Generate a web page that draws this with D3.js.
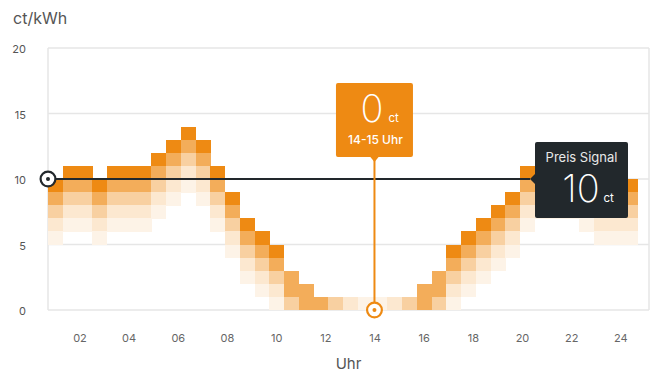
<!DOCTYPE html>
<html>
<head>
<meta charset="utf-8">
<script src="https://cdn.jsdelivr.net/npm/d3@7"></script>
<style>
  html, body { margin: 0; padding: 0; background: #fff; }
  svg { display: block; font-family: Inter, "Noto Sans", sans-serif; }
</style>
</head>
<body>
<svg id="chart" width="654" height="374"></svg>
<script>
// Price per 36-minute slot (ct/kWh, top of each column)
const slotPrice = [
  10, 11, 11, 10, 11, 11, 11, 12, 13, 14,
  13, 11, 9, 7, 6, 5, 3, 2, 1, 1,
  1, 1, 1, 1, 1, 2, 3, 5, 6, 7,
  8, 9, 11, 12, 12, 12, 11, 10, 10, 10
];

// Intensity of each cell in a column, listed from the top cell downwards (5 = strongest)
const slotShade = [
  [5,4,3,2,1], [5,4,3,2,1], [5,4,3,2,1], [5,4,3,2,1], [5,4,3,2,1],
  [5,4,3,2,1], [5,4,3,2,1], [5,4,3,2,1], [5,4,3,2,1], [5,4,3,2,1],
  [5,4,3,2,1], [5,4,3,2,1], [5,4,3,2,1], [5,4,3,2,1], [5,4,3,2,1],
  [5,4,3,2,1], [4,4,3], [4,4], [4], [3],
  [2], [1], [1], [2], [3],
  [4,4], [4,4,3], [5,4,3,2,1], [5,4,3,2,1], [5,4,3,2,1],
  [5,4,3,2,1], [5,4,3,2,1], [5,4,3,2,1], [5,4,3,2,1], [5,4,3,2,1],
  [5,4,3,2,1], [5,4,3,2,1], [5,4,3,2,1], [5,4,3,2,1], [5,4,3,2,1]
];

const hourTicks = [2, 4, 6, 8, 10, 12, 14, 16, 18, 20, 22, 24];
const priceTicks = [0, 5, 10, 15, 20];

const signalPrice = 10;          // "Preis Signal" threshold
const selectedHour = 14;         // highlighted hour
const selectedPrice = 0;
const selectedLabel = "14-15 Uhr";
const dayStart = 0.72, dayEnd = 24.72;   // time span covered by the slots (hours)

const ORANGE = "#ee8a13";
const DARK = "#22282c";
const GRID = "#e6e6e6";

const svg = d3.select("#chart");

const plot = { left: 48, right: 649, top: 48, bottom: 310 };

const x = d3.scaleLinear().domain([dayStart, dayEnd]).range([48, 638]);
const y = d3.scaleLinear().domain([0, 20]).range([plot.bottom, plot.top]);
const slot = d3.scaleBand()
  .domain(d3.range(slotPrice.length))
  .range([x(dayStart), x(dayEnd)])
  .padding(0);

const levelOpacity = [0, 0.1, 0.2, 0.4, 0.7, 1];
const shadeColor = lvl => d3.interpolateRgb("#ffffff", ORANGE)(levelOpacity[lvl]);

// grid
svg.append("g")
  .selectAll("line")
  .data(priceTicks)
  .join("line")
  .attr("x1", plot.left).attr("x2", plot.right)
  .attr("y1", d => y(d)).attr("y2", d => y(d))
  .attr("stroke", GRID).attr("stroke-width", 1.5);

svg.append("g")
  .selectAll("line")
  .data([plot.left, plot.right])
  .join("line")
  .attr("x1", d => d).attr("x2", d => d)
  .attr("y1", plot.top).attr("y2", plot.bottom)
  .attr("stroke", GRID).attr("stroke-width", 1.5);

// y axis labels
const yAxis = svg.append("g")
  .attr("transform", `translate(${plot.left},0)`)
  .call(d3.axisLeft(y).tickValues(priceTicks).tickSize(0).tickPadding(22));
yAxis.select(".domain").remove();
yAxis.selectAll("text")
  .attr("fill", "#555").attr("font-size", 11).attr("dy", "0.45em")
  .attr("font-family", "Inter, sans-serif");

// x axis labels
const xAxis = svg.append("g")
  .attr("transform", `translate(0,${plot.bottom})`)
  .call(d3.axisBottom(x).tickValues(hourTicks).tickFormat(d3.format("02d")).tickSize(0).tickPadding(24));
xAxis.select(".domain").remove();
xAxis.selectAll("text")
  .attr("fill", "#666").attr("font-size", 11)
  .attr("font-family", "Inter, sans-serif");

// axis titles
svg.append("text")
  .attr("x", 13).attr("y", 24)
  .attr("font-size", 16).attr("fill", "#555")
  .text("ct/kWh");

svg.append("text")
  .attr("x", (plot.left + plot.right) / 2).attr("y", 369)
  .attr("text-anchor", "middle")
  .attr("font-size", 15).attr("fill", "#555")
  .text("Uhr");

// price cells
const cells = [];
slotPrice.forEach((v, i) => {
  slotShade[i].forEach((lvl, k) => {
    cells.push({ i, top: v - k, bottom: v - k - 1, lvl });
  });
});

svg.append("g")
  .attr("shape-rendering", "crispEdges")
  .selectAll("rect")
  .data(cells)
  .join("rect")
  .attr("x", d => slot(d.i))
  .attr("y", d => y(d.top))
  .attr("width", slot.bandwidth() + 0.4)
  .attr("height", d => y(d.bottom) - y(d.top) + 0.4)
  .attr("fill", d => shadeColor(d.lvl));

// signal line
const sy = y(signalPrice);
const tipBox = { x: 535, y: 142, w: 93, h: 76 };

svg.append("line")
  .attr("x1", plot.left).attr("x2", tipBox.x - 5)
  .attr("y1", sy).attr("y2", sy)
  .attr("stroke", DARK).attr("stroke-width", 2);

svg.append("circle")
  .attr("cx", plot.left).attr("cy", sy).attr("r", 7.4)
  .attr("fill", "#fff").attr("stroke", DARK).attr("stroke-width", 2.2);
svg.append("circle")
  .attr("cx", plot.left).attr("cy", sy).attr("r", 2)
  .attr("fill", DARK);

// signal tooltip
const sig = svg.append("g");
sig.append("rect")
  .attr("x", tipBox.x).attr("y", tipBox.y)
  .attr("width", tipBox.w).attr("height", tipBox.h)
  .attr("rx", 2).attr("fill", DARK);
sig.append("path")
  .attr("d", `M${tipBox.x + 0.5},${sy - 5.5} L${tipBox.x - 5},${sy} L${tipBox.x + 0.5},${sy + 5.5} Z`)
  .attr("fill", DARK);
sig.append("text")
  .attr("x", tipBox.x + tipBox.w / 2).attr("y", 162)
  .attr("text-anchor", "middle")
  .attr("font-size", 13).attr("fill", "#e8e8e8")
  .text("Preis Signal");
sig.append("text")
  .attr("x", 581).attr("y", 202)
  .attr("text-anchor", "middle")
  .attr("font-size", 38).attr("font-weight", 200).attr("fill", "#fff")
  .text(signalPrice);
sig.append("text")
  .attr("x", 603.5).attr("y", 202)
  .attr("font-size", 11.5).attr("fill", "#fff")
  .text("ct");

// selected hour marker
const hx = x(selectedHour);
const hy = y(selectedPrice);
const selBox = { y: 83, w: 77, h: 74 };

svg.append("line")
  .attr("x1", hx).attr("x2", hx)
  .attr("y1", selBox.y + selBox.h).attr("y2", hy - 7)
  .attr("stroke", ORANGE).attr("stroke-width", 2);
svg.append("circle")
  .attr("cx", hx).attr("cy", hy).attr("r", 7.4)
  .attr("fill", "#fff").attr("stroke", ORANGE).attr("stroke-width", 2.2);
svg.append("circle")
  .attr("cx", hx).attr("cy", hy).attr("r", 2)
  .attr("fill", ORANGE);

const sel = svg.append("g");
sel.append("rect")
  .attr("x", hx - selBox.w / 2).attr("y", selBox.y)
  .attr("width", selBox.w).attr("height", selBox.h)
  .attr("rx", 2).attr("fill", ORANGE);
sel.append("path")
  .attr("d", `M${hx - 4.5},${selBox.y + selBox.h - 0.5} L${hx},${selBox.y + selBox.h + 5} L${hx + 4.5},${selBox.y + selBox.h - 0.5} Z`)
  .attr("fill", ORANGE);
sel.append("text")
  .attr("x", hx - 2.5).attr("y", 122)
  .attr("text-anchor", "middle")
  .attr("font-size", 38).attr("font-weight", 200).attr("fill", "#fff")
  .text(selectedPrice);
sel.append("text")
  .attr("x", hx + 14).attr("y", 122)
  .attr("font-size", 11.5).attr("fill", "#fff")
  .text("ct");
sel.append("text")
  .attr("x", hx + 1).attr("y", 144)
  .attr("text-anchor", "middle")
  .attr("font-size", 12).attr("font-weight", 500).attr("fill", "#fff")
  .text(selectedLabel);
</script>
</body>
</html>
